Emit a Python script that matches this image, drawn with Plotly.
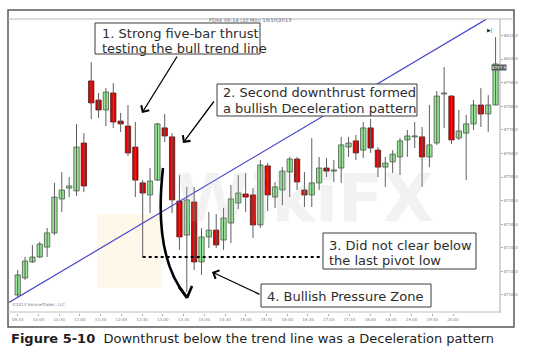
import plotly.graph_objects as go

# ---------------- data (FDAX 10-min bars) ----------------
opens = [8700.0, 8707.2, 8714.0, 8716.1, 8720.3, 8726.3, 8740.7, 8745.3, 8744.1, 8764.4,
         8790.7, 8782.6, 8778.4, 8785.6, 8773.7, 8771.6, 8762.7, 8747.5, 8742.4, 8748.7,
         8770.8, 8767.0, 8739.8, 8725.4, 8739.4, 8714.0, 8724.6, 8727.5, 8723.3, 8730.5,
         8739.0, 8742.8, 8742.4, 8729.7, 8754.7, 8741.5, 8744.5, 8752.1, 8757.6, 8744.5,
         8742.4, 8747.5, 8753.8, 8752.5, 8753.8, 8762.7, 8765.3, 8761.4, 8770.8, 8761.4,
         8754.2, 8756.4, 8758.5, 8765.7, 8767.0, 8767.0, 8758.5, 8764.4, 8785.2, 8784.3,
         8766.5, 8768.6, 8772.5, 8780.5, 8776.7, 8780.5]
highs = [8710.6, 8716.1, 8721.2, 8722.5, 8728.4, 8747.5, 8752.1, 8750.0, 8772.5, 8768.6,
         8798.7, 8785.6, 8787.7, 8789.8, 8777.1, 8780.5, 8773.3, 8748.7, 8753.8, 8772.9,
         8776.7, 8768.6, 8750.8, 8745.8, 8745.8, 8728.4, 8735.2, 8734.3, 8736.9, 8746.6,
         8750.8, 8751.7, 8745.3, 8757.2, 8755.9, 8747.9, 8754.2, 8758.5, 8758.5, 8752.1,
         8766.5, 8758.5, 8758.1, 8757.2, 8767.0, 8767.0, 8767.8, 8773.3, 8774.6, 8762.7,
         8758.5, 8761.4, 8766.5, 8769.9, 8773.3, 8771.2, 8780.5, 8786.4, 8796.6, 8784.7,
         8778.4, 8776.3, 8782.6, 8787.7, 8784.7, 8809.3]
lows = [8699.2, 8706.4, 8713.6, 8715.7, 8716.1, 8725.4, 8735.2, 8741.5, 8742.0, 8743.6,
        8774.6, 8775.0, 8771.6, 8770.8, 8769.1, 8758.9, 8741.5, 8716.1, 8734.7, 8748.3,
        8764.8, 8734.7, 8719.1, 8701.3, 8710.6, 8708.5, 8719.9, 8719.9, 8719.1, 8722.0,
        8736.4, 8735.2, 8724.2, 8728.4, 8735.6, 8736.9, 8738.1, 8741.5, 8744.5, 8737.3,
        8737.3, 8744.5, 8750.0, 8747.9, 8747.5, 8758.5, 8757.2, 8758.1, 8760.2, 8750.0,
        8745.8, 8751.7, 8750.8, 8758.5, 8762.3, 8745.8, 8754.2, 8763.6, 8770.8, 8764.0,
        8765.7, 8748.7, 8769.9, 8771.2, 8769.1, 8780.5]
closes = [8708.5, 8714.4, 8716.1, 8721.6, 8726.3, 8741.5, 8744.5, 8746.2, 8762.7, 8746.2,
          8781.4, 8778.4, 8786.0, 8773.3, 8772.5, 8760.2, 8748.7, 8743.2, 8748.3, 8772.5,
          8767.4, 8740.3, 8724.6, 8740.3, 8714.0, 8724.6, 8727.5, 8721.2, 8732.6, 8740.7,
          8743.2, 8741.5, 8729.7, 8755.1, 8742.4, 8745.8, 8752.5, 8757.6, 8747.9, 8742.4,
          8747.5, 8753.8, 8752.5, 8753.0, 8763.6, 8764.4, 8760.2, 8770.8, 8762.3, 8754.2,
          8755.9, 8759.7, 8765.3, 8767.4, 8767.4, 8758.5, 8763.6, 8784.3, 8785.6, 8765.7,
          8769.5, 8772.5, 8780.5, 8776.7, 8780.5, 8797.9]

trend_x = [-1.18, 63.75]
trend_y = [8696.8, 8816.9]
pivot_x = [17, 41.5]
pivot_y = [8716.1, 8716.1]

y_tick_vals = [8700, 8710, 8720, 8730, 8740, 8750, 8760, 8770, 8780, 8790, 8800, 8810]
x_tick_labels = ["09:30", "10:00", "10:30", "11:00", "11:30", "12:00", "12:30", "13:00",
                 "13:30", "14:00", "14:30", "15:00", "15:30", "16:00", "16:30", "17:00",
                 "17:30", "18:00", "18:30", "19:00", "19:30", "20:00"]

box_texts = [
    ["1. Strong five-bar thrust", "testing the bull trend line"],
    ["2. Second downthrust formed", "a bullish Deceleration pattern"],
    ["3. Did not clear below", "the last pivot low"],
    ["4. Bullish Pressure Zone"],
]

# ---------------- geometry helpers (layout only) ----------------
W, H = 554, 354
PL, PR, PT, PB = 9, 500, 19, 313


def px(x):
    return (x - PL) / (PR - PL)


def py(y):
    return (PB - y) / (PB - PT)


idx = list(range(len(opens)))
GREEN = "rgb(150,232,150)"
RED = "rgb(225,0,0)"
up = [c >= o for o, c in zip(opens, closes)]
body_colors = [GREEN if u else RED for u in up]
body_lines = ["rgb(70,90,70)" if u else "rgb(90,20,20)" for u in up]

fig = go.Figure()

# wicks
wx, wy = [], []
for i, h, l in zip(idx, highs, lows):
    wx += [i, i, None]
    wy += [l, h, None]
fig.add_trace(go.Scatter(x=wx, y=wy, mode="lines",
                         line=dict(color="rgb(95,95,95)", width=1),
                         hoverinfo="skip", showlegend=False))

# bodies
fig.add_trace(go.Bar(x=idx,
                     y=[max(abs(c - o), 0.35) for o, c in zip(opens, closes)],
                     base=[min(o, c) for o, c in zip(opens, closes)],
                     width=0.72,
                     marker=dict(color=body_colors,
                                 line=dict(color=body_lines, width=0.8)),
                     showlegend=False))

# trend line
fig.add_trace(go.Scatter(x=trend_x, y=trend_y, mode="lines",
                         line=dict(color="rgb(70,70,205)", width=1.2),
                         showlegend=False, hoverinfo="skip"))

# pivot low dotted line
fig.add_trace(go.Scatter(x=pivot_x, y=pivot_y, mode="lines",
                         line=dict(color="black", width=2, dash="dot"),
                         showlegend=False, hoverinfo="skip"))

shapes = []
annotations = []

# faint watermark logo block + text
shapes.append(dict(type="rect", xref="paper", yref="paper",
                   x0=px(97), x1=px(162), y0=py(288), y1=py(214),
                   fillcolor="rgba(245,222,150,0.2)", line=dict(width=0), layer="below"))
annotations.append(dict(xref="paper", yref="paper", x=px(305), y=py(198), text="<b>WikiFX</b>",
                        showarrow=False, font=dict(family="DejaVu Sans", size=66,
                                                   color="rgba(175,175,175,0.17)")))

# outer frame
shapes.append(dict(type="rect", xref="paper", yref="paper",
                   x0=px(8), x1=px(514), y0=py(327), y1=py(10),
                   line=dict(color="rgb(90,90,90)", width=1.5)))
# header separator
shapes.append(dict(type="line", xref="paper", yref="paper",
                   x0=px(8), x1=px(514), y0=py(19), y1=py(19),
                   line=dict(color="rgb(185,185,185)", width=1)))
# plot right edge and bottom edge
shapes.append(dict(type="line", xref="paper", yref="paper",
                   x0=px(500), x1=px(500), y0=py(313), y1=py(19),
                   line=dict(color="rgb(170,170,170)", width=1)))
shapes.append(dict(type="line", xref="paper", yref="paper",
                   x0=px(8), x1=px(500), y0=py(312), y1=py(312),
                   line=dict(color="rgb(190,190,190)", width=1)))

# curved thick arrow
p0, p1, p2, p3 = (163, 168), (156, 230), (166, 272), (186, 296)
path = "M {},{} C {},{} {},{} {},{}".format(px(p0[0]), py(p0[1]), px(p1[0]), py(p1[1]),
                                             px(p2[0]), py(p2[1]), px(p3[0]), py(p3[1]))
shapes.append(dict(type="path", xref="paper", yref="paper", path=path,
                   line=dict(color="black", width=2.6)))
for hx, hy in [(179, 287), (192, 286)]:
    shapes.append(dict(type="line", xref="paper", yref="paper",
                       x0=px(hx), y0=py(hy), x1=px(187), y1=py(298),
                       line=dict(color="black", width=2.6)))

BOX_FONT = dict(family="DejaVu Sans, Verdana, sans-serif", size=13, color="rgb(45,45,45)")

# boxes: (left, top, right, bottom, text-left, line centres)
box_geom = [
    (95, 23, 260, 54, 100, [33, 48]),
    (217, 84, 417, 116, 221, [92.5, 108]),
    (323, 233, 476, 269, 327, [245, 260]),
    (261, 284, 431, 307, 265, [296]),
]
for lines, (l, t, r, b, tx, ys) in zip(box_texts, box_geom):
    shapes.append(dict(type="rect", xref="paper", yref="paper",
                       x0=px(l), x1=px(r), y0=py(b), y1=py(t),
                       fillcolor="white", line=dict(color="rgb(60,60,60)", width=1),
                       layer="above"))
    for txt, yc in zip(lines, ys):
        annotations.append(dict(xref="paper", yref="paper", x=px(tx), y=py(yc),
                                xanchor="left", yanchor="middle", text=txt,
                                showarrow=False, font=BOX_FONT))


def arrow(head, tail):
    annotations.append(dict(xref="paper", yref="paper", x=px(head[0]), y=py(head[1]),
                            ax=tail[0] - head[0], ay=tail[1] - head[1], text="",
                            showarrow=True, arrowhead=4, arrowsize=1.4, arrowwidth=1.3,
                            arrowcolor="black"))


arrow((142, 113), (178, 55))
arrow((183, 143), (215, 100))
arrow((212, 272), (261, 295))

# header / small texts
annotations.append(dict(xref="paper", yref="paper", x=px(250), y=py(15),
                        text="FDAX 06-14 (10 Min) 18/10/2013", showarrow=False,
                        font=dict(family="DejaVu Sans", size=5, color="rgb(110,110,110)")))
annotations.append(dict(xref="paper", yref="paper", x=px(10), y=py(309), xanchor="left",
                        text="©2013 VolumeTrader, LLC", showarrow=False,
                        font=dict(family="DejaVu Sans", size=4, color="rgb(120,120,120)")))
annotations.append(dict(xref="paper", yref="paper", x=px(507), y=py(64),
                        text=f"{closes[-1]:.1f}", showarrow=False, bgcolor="rgb(90,90,90)",
                        borderpad=0,
                        font=dict(family="DejaVu Sans", size=4, color="white")))
annotations.append(dict(xref="paper", yref="paper", x=px(495), y=py(25),
                        text="▶|", showarrow=False,
                        font=dict(family="DejaVu Sans", size=5, color="rgb(40,40,40)")))

# caption
annotations.append(dict(xref="paper", yref="paper", x=px(9), y=py(338), xanchor="left",
                        yanchor="middle", showarrow=False,
                        text="<b>Figure 5-10</b>  Downthrust below the trend line was a Deceleration pattern",
                        font=dict(family="DejaVu Sans, Verdana, sans-serif", size=13,
                                  color="rgb(30,30,30)")))

x_tick_vals = [round(k * 2.82, 2) for k in range(len(x_tick_labels))]

fig.update_layout(
    width=W, height=H,
    margin=dict(l=PL, r=W - PR, t=PT, b=H - PB),
    paper_bgcolor="white", plot_bgcolor="white",
    showlegend=False, barmode="overlay",
    shapes=shapes, annotations=annotations,
    xaxis=dict(range=[-1.183, 65.6], showgrid=False, zeroline=False, showline=False,
               tickvals=x_tick_vals, ticktext=x_tick_labels, ticks="outside", ticklen=2,
               tickcolor="rgb(170,170,170)",
               tickfont=dict(family="DejaVu Sans", size=4, color="rgb(130,130,130)")),
    yaxis=dict(range=[8692.37, 8816.95], side="right", showgrid=False, zeroline=False,
               showline=False, tickvals=y_tick_vals,
               ticktext=[f"{v:.1f}" for v in y_tick_vals], ticks="outside", ticklen=2,
               tickcolor="rgb(170,170,170)",
               tickfont=dict(family="DejaVu Sans", size=4, color="rgb(130,130,130)")),
)

fig.write_html("out.html")
